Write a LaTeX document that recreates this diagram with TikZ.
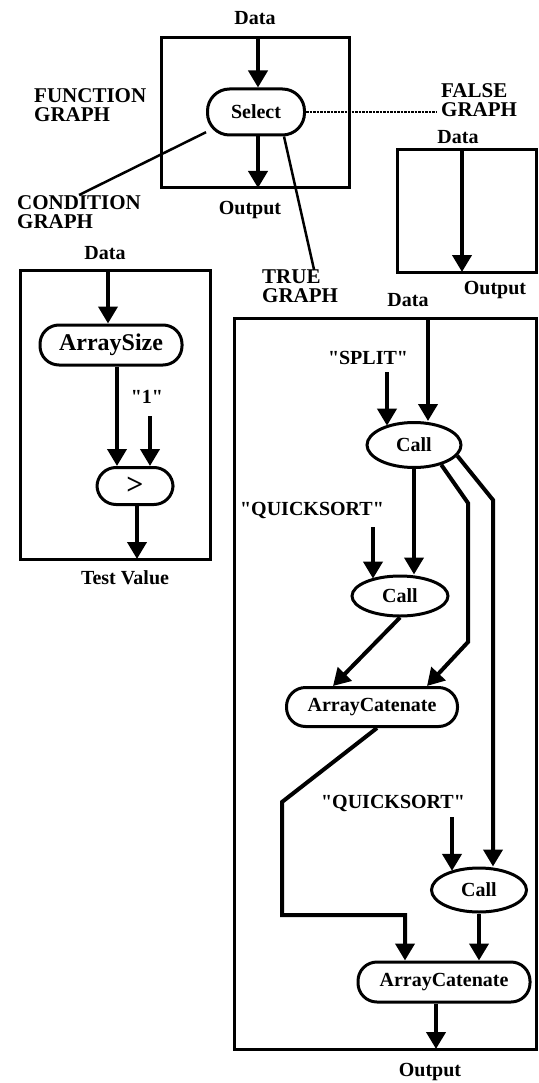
\documentclass[tikz,border=0pt]{standalone}
\usepackage{fontspec}
\setmainfont{Liberation Serif}
\usetikzlibrary{arrows.meta,shapes.geometric}

\begin{document}
\begin{tikzpicture}[x=1pt,y=-1pt,
    font=\bfseries\fontsize{20}{19}\selectfont,
    >={Triangle[width=19pt,length=17pt]},
    wire/.style={line width=4pt},
    frame/.style={line width=3pt},
    link/.style={line width=2.5pt},
    pill/.style={draw,line width=3pt,rounded corners=19pt,inner sep=0pt},
    oval/.style={draw,ellipse,line width=3pt,inner sep=0pt},
    tag/.style={align=left,anchor=north west,inner sep=0pt,font=\bfseries\fontsize{21}{19}\selectfont}]
    \useasboundingbox (0,0) rectangle (538,1083);

    % function graph
    \draw[frame] (161,38) rectangle (349,188);
    \node (fdata) at (255,18) {Data};
    \node (fout) at (250,210) {Output};
    \node[pill,rounded corners=22pt,minimum width=97pt,minimum height=46pt] (select) at (256,112) {Select};
    \coordinate (fi) at (258,38);
    \coordinate (fo) at (258,188);
    \draw[wire,->] (fi) -- (fi |- select.north);
    \draw[wire,->] (fo |- select.south) -- (fo);

    \node[tag] (funclbl) at (34,88) {FUNCTION\\GRAPH};
    \node[tag] (falselbl) at (441,83) {FALSE\\GRAPH};
    \node[tag] (condlbl) at (17,195) {CONDITION\\GRAPH};
    \node[tag] (truelbl) at (262,270) {TRUE\\GRAPH};
    \draw[link,densely dotted] (select.east) -- ([xshift=-4pt]falselbl.west |- select.east);
    \draw[link] (select.-158) -- (condlbl.north);
    \draw[link] ([xshift=-22pt]select.south east) -- ([xshift=14pt]truelbl.north);

    % condition graph
    \draw[frame] (20,270) rectangle (210,559);
    \node (cdata) at (105,253) {Data};
    \node[pill,font=\bfseries\fontsize{24}{24}\selectfont,minimum width=142pt,minimum height=40pt] (asize) at (111,345) {ArraySize};
    \node (one) at (147,397) {\textquotedbl1\textquotedbl};
    \node[pill,font=\bfseries\fontsize{30}{30}\selectfont,minimum width=76pt,minimum height=37pt] (gt) at (135,486) {>};
    \node (test) at (125,578) {Test Value};
    \coordinate (ci) at (108,270);
    \coordinate (c1) at (150,416);
    \coordinate (co) at (137,559);
    \draw[wire,->] (ci) -- (ci |- asize.north);
    \draw[wire,->] ([xshift=6pt]asize.south) -- ([xshift=-18pt]gt.north);
    \draw[wire,->] (c1) -- (c1 |- gt.north);
    \draw[wire,->] ([xshift=2pt]gt.south) -- (co);

    % false graph
    \draw[frame] (397,150) rectangle (536,272);
    \node (xdata) at (458,137) {Data};
    \node (xout) at (495,290) {Output};
    \coordinate (xi) at (462,150);
    \coordinate (xo) at (462,272);
    \draw[wire,->] (xi) -- (xo);

    % true graph
    \draw[frame] (234,318) rectangle (536,1049);
    \node (tdata) at (408,300) {Data};
    \node (split) at (368,358) {\textquotedbl SPLIT\textquotedbl};
    \node[oval,minimum width=94pt,minimum height=45pt] (call1) at (414,445) {Call};
    \node (qs1) at (312,510) {\textquotedbl QUICKSORT\textquotedbl};
    \node[oval,minimum width=96pt,minimum height=40pt] (call2) at (400,596) {Call};
    \node[pill,minimum width=171pt,minimum height=39pt] (cat1) at (372,707) {ArrayCatenate};
    \node (qs2) at (393,803) {\textquotedbl QUICKSORT\textquotedbl};
    \node[oval,minimum width=95pt,minimum height=44pt] (call3) at (479,890) {Call};
    \node[pill,minimum width=172pt,minimum height=40pt] (cat2) at (444,982) {ArrayCatenate};
    \node (tout) at (430,1072) {Output};

    \coordinate (ti) at (428,318);
    \coordinate (s1) at (387,372);
    \coordinate (q1) at (373,527);
    \coordinate (q2) at (452,817);
    \coordinate (ka) at (468,503);
    \coordinate (kb) at (468,642);
    \coordinate (kc) at (493,500);
    \coordinate (kd) at (282,802);
    \coordinate (ke) at (282,915);
    \coordinate (kf) at (405,915);
    \coordinate (to) at (436,1049);

    \draw[wire,->] (ti) -- (ti |- call1.north);
    \draw[wire,->] (s1) -- (s1 |- call1.146);
    \draw[wire,->] (call1.south) -- (call1.south |- call2.north);
    \draw[wire,->] (q1) -- (q1 |- call2.149);
    \draw[wire,->] (call1.-36) -- (ka) -- (kb) -- ([xshift=55pt]cat1.north);
    \draw[wire,->] (call1.-14) -- (kc) -- (kc |- call3.north);
    \draw[wire,->] (call2.south) -- ([xshift=-39pt]cat1.north);
    \draw[wire,->] ([xshift=5pt]cat1.south) -- (kd) -- (ke) -- (kf) -- ([xshift=-39pt]cat2.north);
    \draw[wire,->] (q2) -- (q2 |- call3.146);
    \draw[wire,->] (call3.south) -- (call3.south |- cat2.north);
    \draw[wire,->] ([xshift=-8pt]cat2.south) -- (to);
\end{tikzpicture}
\end{document}
